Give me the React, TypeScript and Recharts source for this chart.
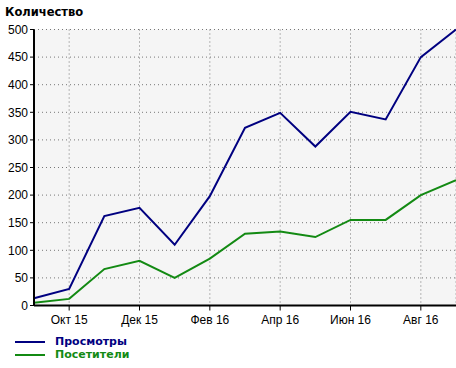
import React from 'react';
import { LineChart, Line, XAxis, YAxis, CartesianGrid } from 'recharts';

const months = ['Сен 15','Окт 15','Ноя 15','Дек 15','Янв 16','Фев 16','Мар 16','Апр 16','Май 16','Июн 16','Июл 16','Авг 16','Сен 16'];
const views = [13, 30, 162, 177, 110, 198, 322, 349, 288, 351, 337, 450, 500];
const visitors = [5, 12, 66, 81, 50, 85, 130, 134, 124, 155, 155, 200, 227];
const xTicks = [1, 3, 5, 7, 9, 11];
const yTicks = [0, 50, 100, 150, 200, 250, 300, 350, 400, 450, 500];

const data = months.map((m, i) => ({ i, m, views: views[i], visitors: visitors[i] }));

const NAVY = '#000080';
const GREEN = '#138a13';

export default function App() {
  return (
    <div style={{ position: 'fixed', left: 0, top: 0, width: 456, height: 368, background: '#fff' }}>
      <div style={{ position: 'absolute', left: 5, top: 5, fontFamily: 'DejaVu Sans', fontWeight: 'bold', fontSize: 11.5, color: '#000' }}>Количество</div>
      <LineChart width={456} height={368} data={data} margin={{ top: 29.5, right: 0, bottom: 42.5, left: 0 }}>
        <CartesianGrid stroke="#777" strokeDasharray="1 3" fill="#f5f5f5" />
        <XAxis
          dataKey="i"
          type="number"
          domain={[0, 12]}
          ticks={xTicks}
          tickFormatter={(v: number) => months[v]}
          height={20}
          axisLine={{ stroke: '#000', strokeWidth: 2 }}
          tickLine={{ stroke: '#000' }}
          tickSize={5}
          tickMargin={5}
          tick={{ fill: '#000', fontSize: 12, fontFamily: 'Liberation Sans' }}
        />
        <YAxis
          type="number"
          domain={[0, 500]}
          ticks={yTicks}
          width={34}
          axisLine={{ stroke: '#000', strokeWidth: 2 }}
          tickLine={{ stroke: '#000' }}
          tickSize={4}
          tick={{ fill: '#000', fontSize: 12, fontFamily: 'Liberation Sans' }}
        />
        <Line dataKey="views" stroke={NAVY} strokeWidth={2} dot={false} isAnimationActive={false} />
        <Line dataKey="visitors" stroke={GREEN} strokeWidth={2} dot={false} isAnimationActive={false} />
      </LineChart>
      <div style={{ position: 'absolute', left: 15, top: 335, fontFamily: 'DejaVu Sans', fontWeight: 'bold', fontSize: 11, lineHeight: '13px' }}>
        <div style={{ display: 'flex', alignItems: 'center', color: NAVY }}>
          <span style={{ display: 'inline-block', width: 30, height: 2, background: NAVY, marginRight: 10 }} />Просмотры
        </div>
        <div style={{ display: 'flex', alignItems: 'center', color: GREEN }}>
          <span style={{ display: 'inline-block', width: 30, height: 2, background: GREEN, marginRight: 10 }} />Посетители
        </div>
      </div>
    </div>
  );
}
